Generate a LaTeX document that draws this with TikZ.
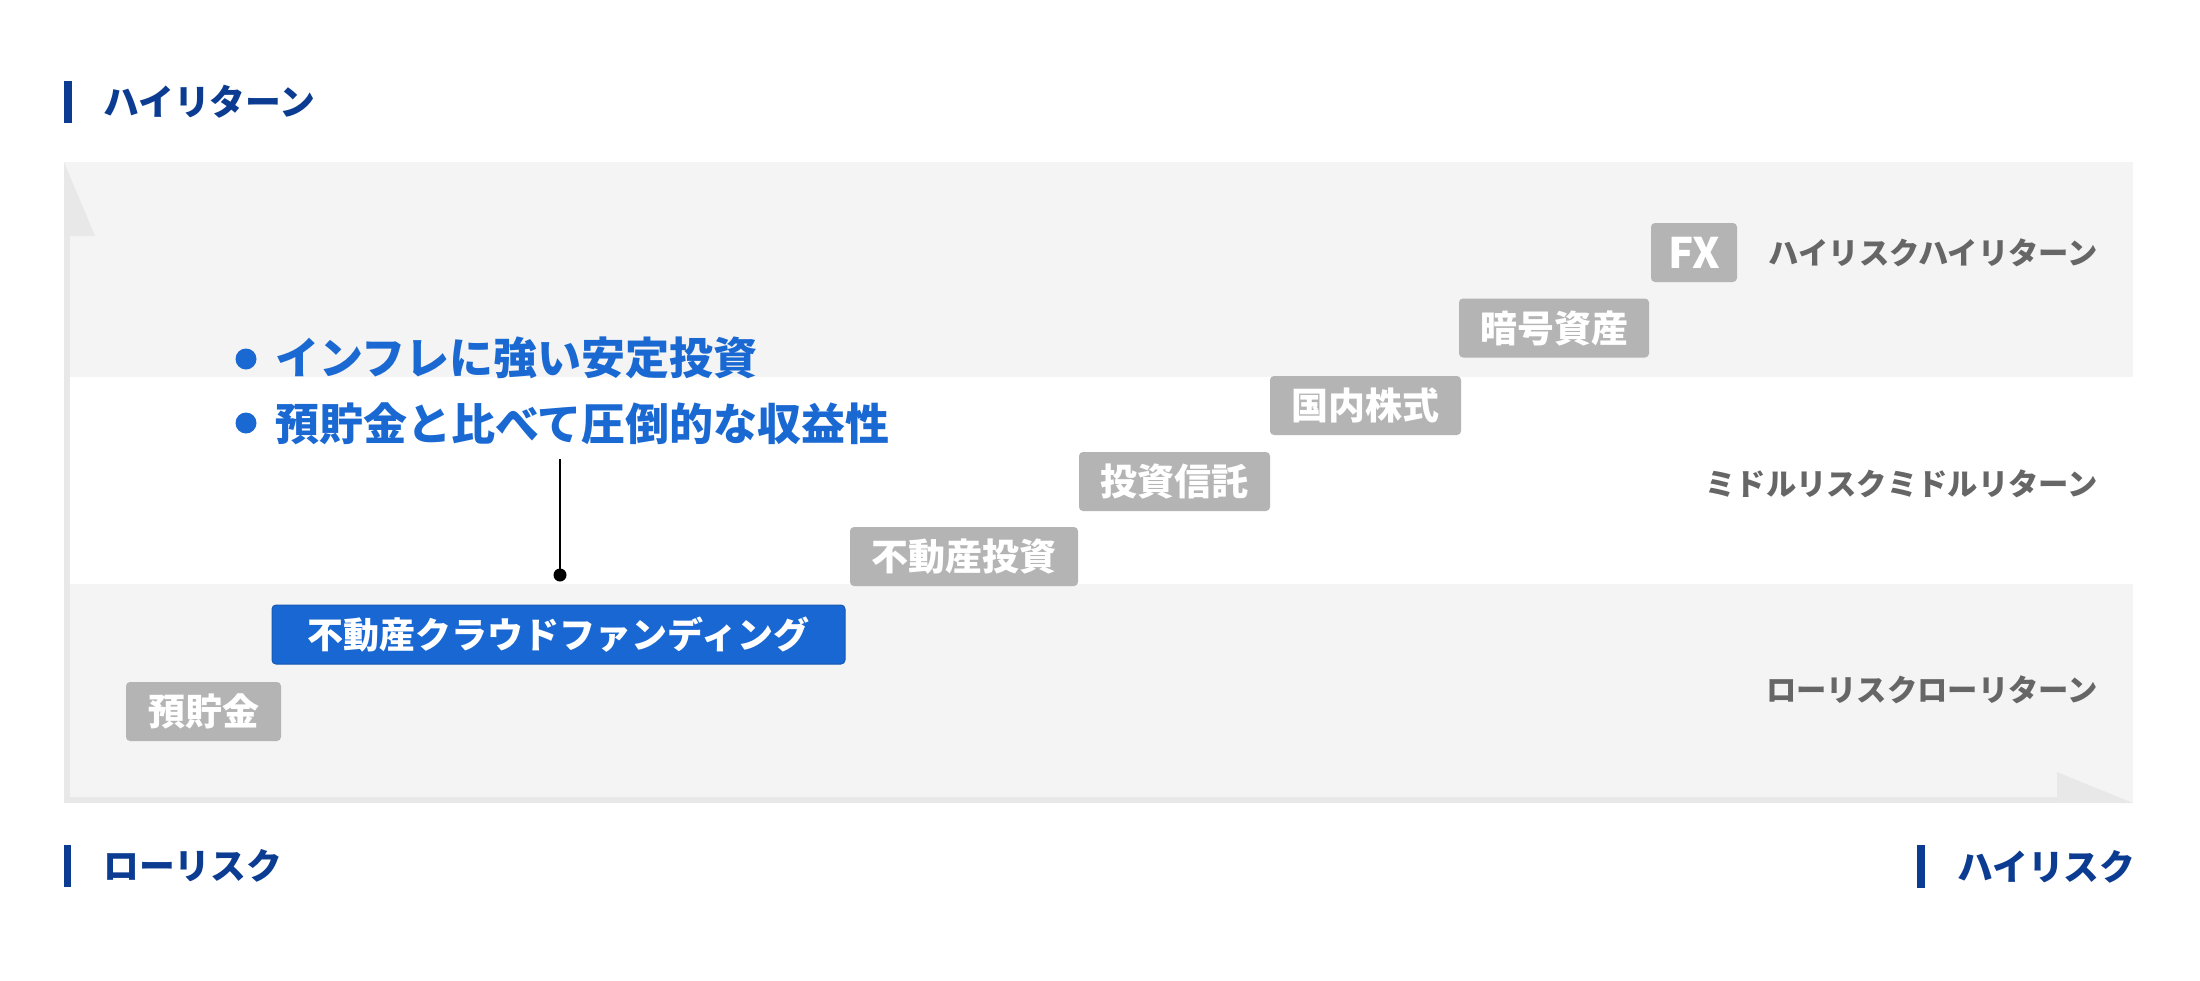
\documentclass[tikz,border=0pt]{standalone}
\usepackage{fontspec}
\newfontfamily\jp{Noto Sans CJK JP}
\definecolor{navy}{HTML}{0B3C91}
\definecolor{bulletblue}{HTML}{1A69D2}
\definecolor{boxblue}{HTML}{1967D2}
\definecolor{boxgray}{HTML}{B4B4B4}
\definecolor{labelgray}{HTML}{666666}
\definecolor{bandgray}{HTML}{F4F4F4}
\definecolor{axisgray}{HTML}{E8E8E8}
\tikzset{
  gbox/.style={fill=boxgray, text=white, rounded corners=4, minimum height=59, inner sep=0,
    font={\jp\bfseries\fontsize{37}{42}\selectfont}},
  bbox/.style={gbox, fill=boxblue, draw=boxblue!85!black, line width=1,
    font={\jp\bfseries\fontsize{36}{42}\selectfont}},
  bullettext/.style={anchor=west, inner sep=0, text=bulletblue, font={\jp\bfseries\fontsize{44}{50}\selectfont}},
  bulletdot/.style={circle, fill=bulletblue, inner sep=0, minimum size=21},
  rlabel/.style={anchor=east, inner sep=0, text=labelgray, font={\jp\bfseries\fontsize{30.3}{35}\selectfont}},
  axlabel/.style={anchor=west, inner sep=0, text=navy, font={\jp\bfseries\fontsize{35.8}{42}\selectfont}},
  enddot/.style={circle, fill=black, inner sep=0, minimum size=13},
}
\begin{document}
\begin{tikzpicture}[x=1pt,y=-1pt]
\useasboundingbox[fill=white] (0,0) rectangle (2200,980);
% chart background
\fill[bandgray] (64,162) rectangle (2133,803);
\fill[white] (70,377) rectangle (2133,584);
\fill[axisgray] (64,236) rectangle (70,803);
\fill[axisgray] (64,797) rectangle (2057,803);
\fill[axisgray] (64,162) -- (95,236) -- (64,236) -- cycle;
\fill[axisgray] (2057,772) -- (2133,803) -- (2057,803) -- cycle;
% axis titles
\fill[navy] (64,81) rectangle (72,123);
\node[axlabel] (hr) at (103,102) {ハイリターン};
\fill[navy] (64,845) rectangle (71,887);
\node[axlabel] (lr) at (103,866) {ローリスク};
\fill[navy] (1917,845) rectangle (1925,888);
\node[axlabel] (hrk) at (1957,867) {ハイリスク};
% right labels
\node[rlabel] (l1) at (2098,253) {ハイリスクハイリターン};
\node[rlabel] (l2) at (2098,484) {ミドルリスクミドルリターン};
\node[rlabel] (l3) at (2098,690) {ローリスクローリターン};
% boxes
\node[gbox, minimum width=86, font={\jp\bfseries\fontsize{42}{46}\selectfont}] (fx) at (1694,252.5) {FX};
\node[gbox, minimum width=190] (ango) at (1554,328) {暗号資産};
\node[gbox, minimum width=191] (kokunai) at (1365.5,405.5) {国内株式};
\node[gbox, minimum width=191] (toshin) at (1174.5,481.5) {投資信託};
\node[gbox, minimum width=228] (fudosan) at (964,556.5) {不動産投資};
\node[bbox, minimum width=573] (cf) at (558.5,634.5) {不動産クラウドファンディング};
\node[gbox, minimum width=155] (yochokin) at (203.5,711.5) {預貯金};
% bullets
\node[bulletdot] (b1) at (246,359) {};
\node[bullettext] (t1) at (275,358) {インフレに強い安定投資};
\node[bulletdot] (b2) at (246,423) {};
\node[bullettext] (t2) at (275,424) {預貯金と比べて圧倒的な収益性};
% connector
\coordinate (ctop) at (560,459);
\node[enddot] (cdot) at (560,575) {};
\draw[line width=2] (ctop) -- (cdot.center);
\end{tikzpicture}
\end{document}
